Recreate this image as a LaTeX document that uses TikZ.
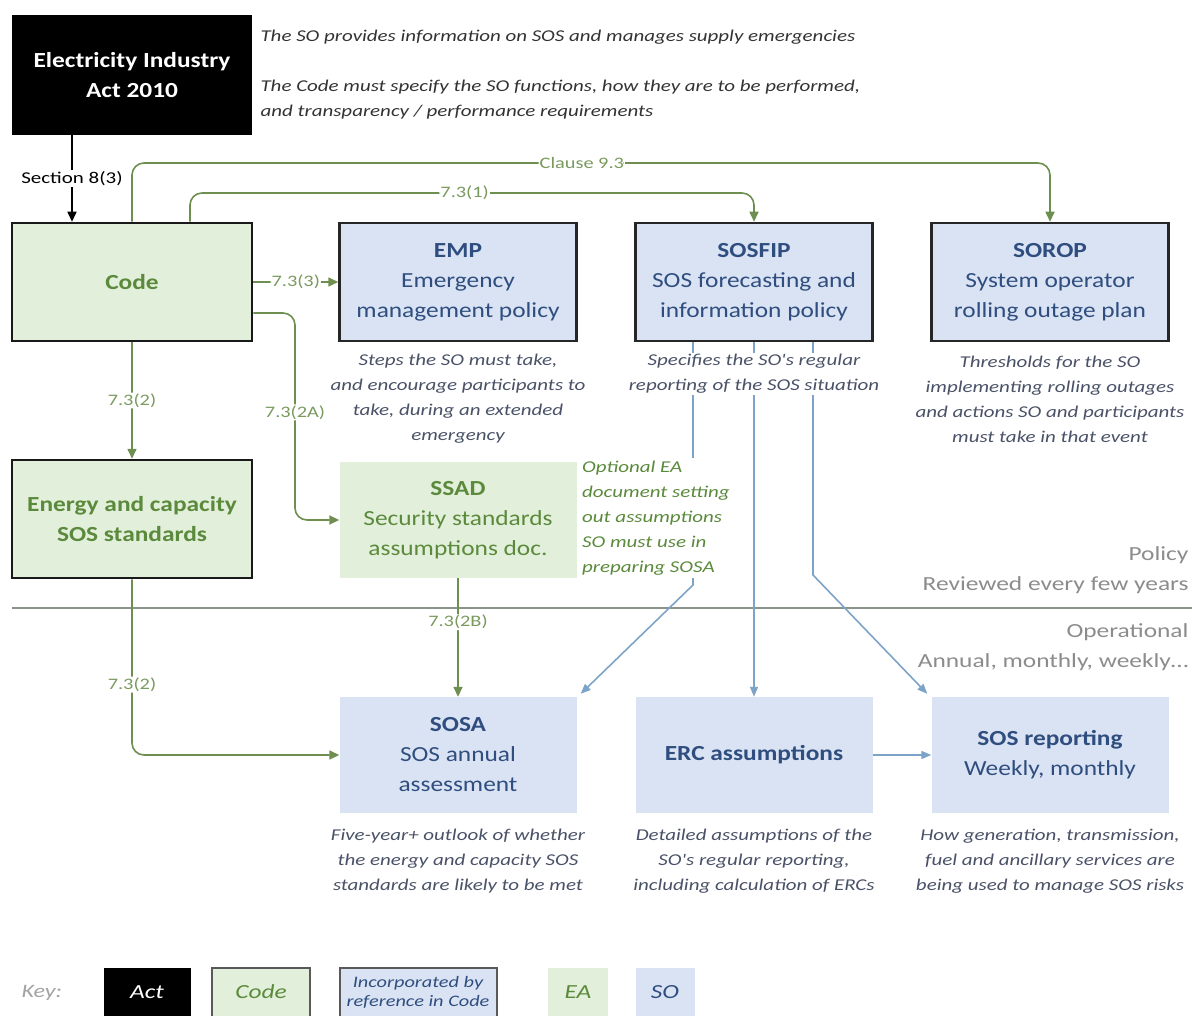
\documentclass[tikz,border=0pt]{standalone}
\usepackage{fontspec}
\setmainfont{Carlito}[FakeStretch=1.18]
\newfontfamily\wf{Carlito}[FakeStretch=1.27]
\usetikzlibrary{arrows.meta}
\definecolor{gfill}{HTML}{E2EFDA}
\definecolor{bfill}{HTML}{DAE3F3}
\definecolor{gtext}{HTML}{5B8A3C}
\definecolor{gline}{HTML}{6E8F50}
\definecolor{glabel}{HTML}{7A9A5E}
\definecolor{btext}{HTML}{2F4E7F}
\definecolor{bline}{HTML}{7EA3C9}
\definecolor{dtext}{HTML}{4A5268}
\definecolor{graytext}{HTML}{8C8C8C}
\definecolor{divline}{HTML}{8A948A}
\newcommand\bigfont{\fontsize{21.5}{30}\selectfont}
\newcommand\descfont{\wf\fontsize{16.5}{25}\selectfont\itshape}
\newcommand\labfont{\wf\fontsize{16}{19}\selectfont}
\begin{document}
\begin{tikzpicture}[x=1pt,y=-1pt,
  bigbox/.style={minimum width=237pt, minimum height=118pt, inner sep=2pt, align=center, font=\bigfont},
  codebox/.style={bigbox, fill=gfill, draw=black!90, line width=2.5pt, text=gtext},
  sobox/.style={bigbox, fill=bfill, draw=black!85, line width=2.5pt, text=btext},
  eabox/.style={bigbox, fill=gfill, text=gtext},
  opbox/.style={bigbox, fill=bfill, text=btext},
  desc/.style={font=\descfont, text=dtext, align=center, fill=white, inner sep=1pt},
  gl/.style={draw=gline, line width=1.6pt, rounded corners=12pt},
  garrow/.style={gl, -{Triangle[length=10pt,width=9pt]}},
  barrow/.style={draw=bline, line width=1.6pt, -{Triangle[length=10pt,width=8pt]}},
  lab/.style={fill=white, inner sep=1pt, text=glabel, font=\labfont},
  keybox/.style={minimum height=49pt, inner sep=1pt, align=center, font=\wf\fontsize{20}{22}\selectfont\itshape},
  side/.style={anchor=east, text=graytext, font=\wf\fontsize{20}{22}\selectfont}
]
\useasboundingbox (0,0) rectangle (1192,1016);
\clip (0,0) rectangle (1192,1016);

% main boxes
\node[bigbox, fill=black, text=white, minimum width=240pt, minimum height=120pt, font=\bigfont\bfseries] (act) at (132,75) {Electricity Industry\\Act 2010};
\node[codebox, minimum width=240pt, font=\bigfont\bfseries] (code) at (132,282) {Code};
\node[sobox] (emp) at (458,282) {\textbf{EMP}\\Emergency\\management policy};
\node[sobox] (sosfip) at (754,282) {\textbf{SOSFIP}\\SOS forecasting and\\information policy};
\node[sobox] (sorop) at (1050,282) {\textbf{SOROP}\\System operator\\rolling outage plan};
\node[codebox, minimum width=240pt, font=\bigfont\bfseries] (energy) at (132,519) {Energy and capacity\\SOS standards};
\node[eabox, minimum height=116pt] (ssad) at (458,520) {\textbf{SSAD}\\Security standards\\assumptions doc.};
\node[opbox, minimum height=116pt] (sosa) at (458,755) {\textbf{SOSA}\\SOS annual\\assessment};
\node[opbox, minimum height=116pt] (erc) at (754,755) {\textbf{ERC assumptions}};
\node[opbox, minimum height=116pt] (sosrep) at (1050,755) {\textbf{SOS reporting}\\Weekly, monthly};

% top texts
\node[anchor=west, font=\wf\fontsize{16.5}{25}\selectfont\itshape, text=black!80] (t1) at (257,37) {The SO provides information on SOS and manages supply emergencies};
\node[anchor=west, align=left, font=\wf\fontsize{16.5}{25}\selectfont\itshape, text=black!80] (t2) at (257,100) {The Code must specify the SO functions, how they are to be performed,\\and transparency / performance requirements};

% divider
\draw[divline, line width=2.5pt] (12,608) coordinate (dl) -- (1192,608) coordinate (dr);
\node[side] (pol1) at (1192,555) {Policy};
\node[side] (pol2) at (1192,585) {Reviewed every few years};
\node[side] (op1) at (1192,632) {Operational};
\node[side] (op2) at (1192,662) {Annual, monthly, weekly\dots};

% green connectors
\draw[draw=black, line width=1.6pt, -{Triangle[length=10pt,width=9pt]}] ([xshift=-60pt]act.south) -- node[fill=white, inner sep=1pt, text=black, font=\wf\fontsize{16.5}{19}\selectfont]{Section 8(3)} ([xshift=-60pt]code.north);
\draw[garrow] (code.north) -- (code.north |- 0,163) -- node[lab, pos=0.49]{Clause 9.3} (sorop.north |- 0,163) -- (sorop.north);
\draw[garrow] ([xshift=58pt]code.north) -- ([xshift=58pt]code.north |- 0,193) -- node[lab, pos=0.487]{7.3(1)} (sosfip.north |- 0,193) -- (sosfip.north);
\draw[garrow] (code.east) -- node[lab]{7.3(3)} (emp.west);
\draw[garrow] ([yshift=-31pt]code.east) -- (295,313) -- node[lab, pos=0.48]{7.3(2A)} (295,520) -- (ssad.west);
\draw[garrow] (code.south) -- node[lab]{7.3(2)} (energy.north);
\draw[garrow] (ssad.south) -- node[lab, pos=0.37]{7.3(2B)} (sosa.north);
\draw[garrow] (energy.south) -- node[lab, pos=0.6]{7.3(2)} (energy.south |- sosa.west) -- (sosa.west);

% blue connectors
\draw[barrow] ([xshift=-61pt]sosfip.south) -- (693,585) -- ([xshift=4pt,yshift=3pt]sosa.north east);
\draw[barrow] (sosfip.south) -- (erc.north);
\draw[barrow] ([xshift=59pt]sosfip.south) -- (813,575) -- ([xshift=-4pt,yshift=3pt]sosrep.north west);
\draw[barrow] (erc.east) -- (sosrep.west);

% descriptions
\node[desc] (demp) at (458,399) {Steps the SO must take,\\and encourage participants to\\take, during an extended\\emergency};
\node[desc] (dsosfip) at (754,374) {Specifies the SO's regular\\reporting of the SOS situation};
\node[desc] (dsorop) at (1050,399) {Thresholds for the SO\\implementing rolling outages\\and actions SO and participants\\must take in that event};
\node[desc, text=gtext, align=left, anchor=west, inner ysep=3pt] (dssad) at (581,518) {Optional EA\\document setting\\out assumptions\\SO must use in\\preparing SOSA};
\node[desc] (dsosa) at (458,861) {Five-year+ outlook of whether\\the energy and capacity SOS\\standards are likely to be met};
\node[desc] (derc) at (754,861) {Detailed assumptions of the\\SO's regular reporting,\\including calculation of ERCs};
\node[desc] (dsosrep) at (1050,861) {How generation, transmission,\\fuel and ancillary services are\\being used to manage SOS risks};

% key
\node[anchor=west, text=graytext!80, font=\wf\fontsize{19}{22}\selectfont\itshape] (key) at (18,993) {Key:};
\node[keybox, fill=black, text=white, minimum width=87pt] (kact) at (147,992) {Act};
\node[keybox, fill=gfill, draw=black!65, line width=2pt, text=gtext, minimum width=98pt] (kcode) at (261,992) {Code};
\node[keybox, fill=bfill, draw=black!65, line width=2pt, text=btext, minimum width=157pt, font=\wf\fontsize{16}{19}\selectfont\itshape] (kinc) at (418,992) {Incorporated by\\reference in Code};
\node[keybox, fill=gfill, text=gtext, minimum width=60pt] (kea) at (578,992) {EA};
\node[keybox, fill=bfill, text=btext, minimum width=59pt] (kso) at (665,992) {SO};
\end{tikzpicture}
\end{document}
